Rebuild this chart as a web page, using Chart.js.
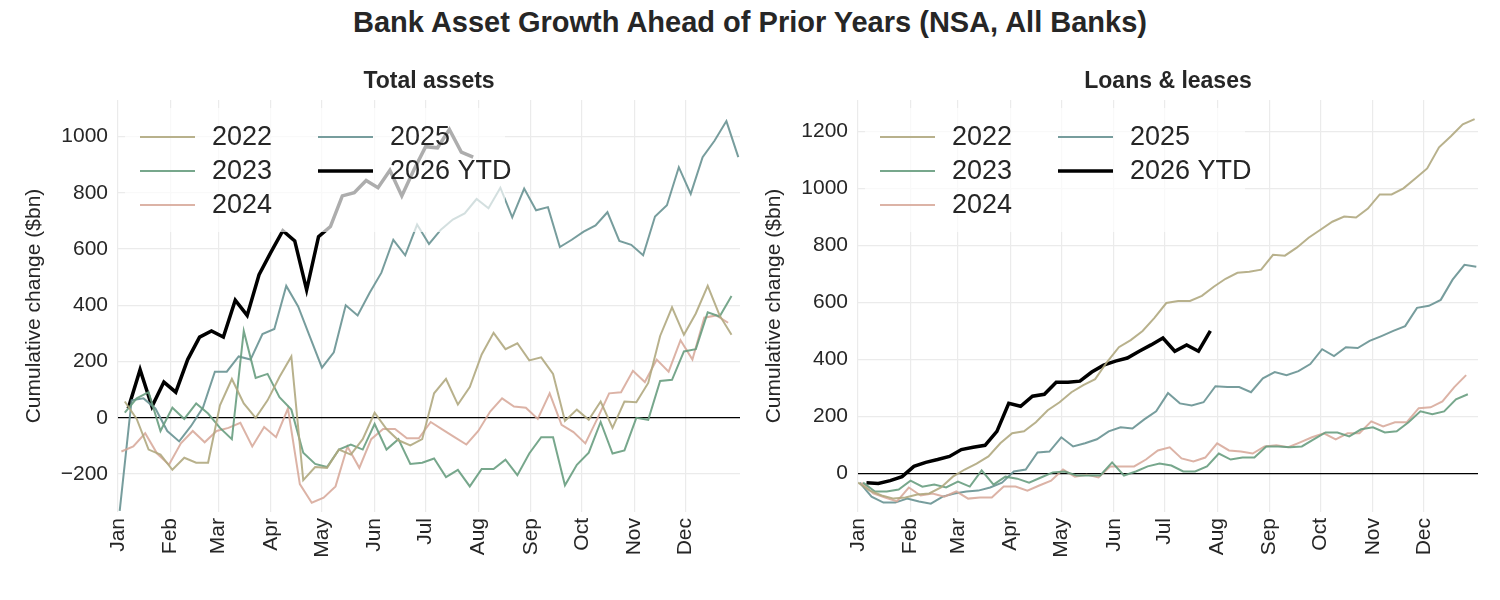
<!DOCTYPE html>
<html>
<head>
<meta charset="utf-8">
<script src="https://cdn.jsdelivr.net/npm/chart.js@4"></script>
<style>
  body { margin: 0; background: #fff; width: 1500px; height: 600px; position: relative; overflow: hidden; font-family: Arial, "Liberation Sans", sans-serif; }
  h1 { position: absolute; top: 6px; left: 0; width: 1500px; margin: 0; text-align: center; font-size: 29px; font-weight: bold; color: #262626; }
  .wrap { position: absolute; top: 60px; width: 750px; height: 540px; }
</style>
</head>
<body>
<h1>Bank Asset Growth Ahead of Prior Years (NSA, All Banks)</h1>
<div class="wrap" style="left:0"><canvas id="left_chart"></canvas></div>
<div class="wrap" style="left:740px"><canvas id="right_chart"></canvas></div>
<script>
// month ticks (day of year)
const monthDays = [0, 31, 59, 90, 120, 151, 181, 212, 243, 273, 304, 334];
const monthNames = ['Jan', 'Feb', 'Mar', 'Apr', 'May', 'Jun', 'Jul', 'Aug', 'Sep', 'Oct', 'Nov', 'Dec'];

const years = ['2022', '2023', '2024', '2025', '2026 YTD'];
const yearColors = ['rgba(176,168,128,0.9)', 'rgba(104,157,128,0.9)', 'rgba(214,166,150,0.85)', 'rgba(104,146,146,0.9)', '#000'];
const yearWidths = [2, 2, 2, 2, 3.5];

// first day-of-year of each weekly series
const leftStart = [4, 4, 2, 1, 6];
const rightStart = [0, 3, 2, 1, 5];

// Total assets, cumulative change ($bn)
const assets2022 = [58, -4, -113, -131, -185, -142, -160, -160, 44, 138, 51, 0, 62, 145, 218, -222, -175, -178, -113, -131, -76, 18, -40, -80, -98, -76, 87, 138, 47, 109, 225, 302, 244, 265, 204, 215, 156, -11, 29, -7, 58, -36, 58, 55, 124, 291, 393, 295, 371, 469, 364, 295];
const assets2023 = [18, 69, 91, -47, 36, -4, 51, 15, -36, -76, 309, 142, 156, 73, 29, -124, -164, -175, -113, -95, -113, -22, -113, -76, -164, -160, -145, -211, -185, -244, -182, -182, -149, -204, -127, -69, -69, -240, -167, -124, -15, -127, -116, 0, -7, 131, 135, 236, 244, 375, 360, 433];
const assets2024 = [-120, -102, -55, -127, -167, -91, -47, -87, -47, -36, -18, -102, -33, -69, 33, -236, -302, -284, -244, -102, -178, -76, -40, -40, -73, -73, -15, -42, -69, -95, -47, 22, 69, 40, 36, -4, 87, -25, -51, -91, -4, 87, 91, 167, 127, 207, 164, 276, 207, 356, 364, 338];
const assets2025 = [-331, 62, 69, 33, -47, -84, -29, 36, 164, 164, 218, 207, 298, 316, 469, 396, 287, 178, 233, 400, 364, 444, 516, 633, 578, 687, 618, 669, 705, 727, 778, 745, 818, 713, 815, 738, 749, 607, 633, 662, 684, 731, 629, 615, 578, 716, 756, 891, 796, 927, 985, 1055, 927];
const assets2026 = [33, 171, 40, 127, 91, 207, 287, 309, 287, 418, 364, 509, 589, 665, 629, 455, 644, 680, 789, 800, 844, 818, 880, 789, 880, 964, 960, 1025, 945, 927];

// Loans & leases, cumulative change ($bn)
const loans2022 = [-32, -60, -77, -88, -84, -74, -70, -49, -11, 14, 35, 60, 106, 141, 148, 180, 222, 250, 285, 310, 331, 391, 443, 468, 500, 546, 598, 605, 605, 623, 655, 683, 704, 708, 715, 767, 764, 792, 827, 855, 883, 901, 898, 929, 979, 979, 1000, 1035, 1070, 1144, 1183, 1225, 1243];
const loans2023 = [-32, -63, -63, -56, -25, -46, -39, -49, -28, -46, 11, -39, -11, -18, -32, -14, 4, 7, -7, -7, -7, 39, -7, 7, 25, 35, 28, 7, 7, 25, 70, 49, 56, 56, 95, 95, 92, 95, 120, 144, 144, 130, 155, 162, 144, 148, 180, 218, 208, 218, 260, 278];
const loans2024 = [-32, -70, -84, -98, -49, -77, -70, -81, -63, -88, -84, -84, -46, -46, -60, -42, -25, 14, -11, -4, -14, 25, 25, 25, 49, 81, 92, 53, 42, 56, 106, 81, 77, 70, 95, 99, 92, 109, 127, 141, 120, 141, 141, 183, 165, 180, 180, 229, 232, 253, 303, 345];
const loans2025 = [-32, -81, -102, -102, -88, -98, -106, -81, -70, -63, -60, -49, -32, 7, 14, 74, 77, 127, 95, 106, 120, 148, 162, 158, 190, 218, 282, 246, 239, 250, 306, 303, 303, 285, 334, 356, 345, 359, 384, 436, 412, 443, 440, 465, 482, 500, 517, 581, 588, 609, 680, 732, 725];
const loans2026 = [-32, -35, -25, -11, 25, 39, 49, 60, 84, 92, 99, 148, 246, 236, 271, 278, 320, 320, 324, 356, 380, 394, 405, 429, 451, 475, 429, 451, 429, 500];

function weekly(values, start) {
    return values.map((v, i) => ({ x: start + 7 * i, y: v }));
}

// subplot title centred over the plot area
const plotTitle = {
    id: 'plotTitle',
    afterDraw(chart, args, opts) {
        const ctx = chart.ctx;
        const a = chart.chartArea;
        ctx.save();
        ctx.font = 'bold 23px Arial, "Liberation Sans", sans-serif';
        ctx.fillStyle = '#262626';
        ctx.textAlign = 'center';
        ctx.textBaseline = 'middle';
        ctx.fillText(opts.text, (a.left + a.right) / 2, 22);
        ctx.restore();
    }
};

// legend drawn inside the plot with a semi-transparent box over the lines
const insideLegend = {
    id: 'insideLegend',
    afterDatasetsDraw(chart) {
        const ctx = chart.ctx;
        const a = chart.chartArea;
        ctx.save();
        ctx.fillStyle = 'rgba(255,255,255,0.68)';
        ctx.fillRect(a.left + 7, a.top + 8, 380, 124);
        ctx.font = '27px Arial, "Liberation Sans", sans-serif';
        ctx.textBaseline = 'middle';
        chart.data.datasets.forEach((ds, i) => {
            const col = i < 3 ? 0 : 1;
            const row = i < 3 ? i : i - 3;
            const x0 = a.left + (col === 0 ? 22 : 200);
            const y0 = a.top + 37 + row * 34;
            ctx.strokeStyle = ds.borderColor;
            ctx.lineWidth = ds.borderWidth;
            ctx.beginPath();
            ctx.moveTo(x0, y0);
            ctx.lineTo(x0 + 55, y0);
            ctx.stroke();
            ctx.fillStyle = '#262626';
            ctx.fillText(ds.label, x0 + 72, y0 + 1);
        });
        ctx.restore();
    }
};

function makeChart(id, title, series, starts, yMin, yMax, padRight) {
    const ctx = document.getElementById(id).getContext('2d');
    const datasets = series.map((vals, i) => ({
        label: years[i],
        data: weekly(vals, starts[i]),
        borderColor: yearColors[i],
        borderWidth: yearWidths[i],
        pointRadius: 0,
        tension: 0,
        fill: false
    }));
    return new Chart(ctx, {
        type: 'line',
        data: { datasets: datasets },
        options: {
            responsive: true,
            maintainAspectRatio: false,
            animation: false,
            layout: { padding: { left: 22, right: padRight, top: 40, bottom: 0 } },
            scales: {
                x: {
                    type: 'linear',
                    min: 0,
                    max: 366,
                    border: { display: false },
                    grid: { color: '#ebebeb', lineWidth: 1.2, drawTicks: false },
                    afterBuildTicks: function(scale) {
                        scale.ticks = monthDays.map(d => ({ value: d }));
                    },
                    afterFit: function(scale) { scale.height = 88; },
                    ticks: {
                        color: '#262626',
                        font: { size: 21 },
                        maxRotation: 90,
                        minRotation: 90,
                        autoSkip: false,
                        padding: 6,
                        callback: function(value) {
                            const k = monthDays.indexOf(value);
                            return k >= 0 ? monthNames[k] : '';
                        }
                    }
                },
                y: {
                    min: yMin,
                    max: yMax,
                    border: { display: false },
                    grid: {
                        drawTicks: false,
                        lineWidth: 1.2,
                        color: function(c) { return c.tick && c.tick.value === 0 ? '#000' : '#ebebeb'; }
                    },
                    afterFit: function(scale) { scale.width = 96; },
                    afterBuildTicks: function(scale) {
                        const t = [];
                        for (let v = Math.ceil(yMin / 200) * 200; v <= yMax; v += 200) t.push({ value: v });
                        scale.ticks = t;
                    },
                    ticks: {
                        color: '#262626',
                        font: { size: 21 },
                        padding: 10,
                        callback: function(value) { return value < 0 ? '\u2212' + Math.abs(value) : value; }
                    },
                    title: {
                        display: true,
                        text: 'Cumulative change ($bn)',
                        color: '#262626',
                        font: { size: 21 },
                        padding: { top: 0, bottom: 0 }
                    }
                }
            },
            plugins: {
                legend: { display: false },
                tooltip: { enabled: false },
                title: { display: false },
                plotTitle: { text: title }
            }
        },
        plugins: [insideLegend, plotTitle]
    });
}

makeChart('left_chart', 'Total assets',
    [assets2022, assets2023, assets2024, assets2025, assets2026], leftStart, -335, 1130, 10);
makeChart('right_chart', 'Loans & leases',
    [loans2022, loans2023, loans2024, loans2025, loans2026], rightStart, -135, 1310, 12);
</script>
</body>
</html>
